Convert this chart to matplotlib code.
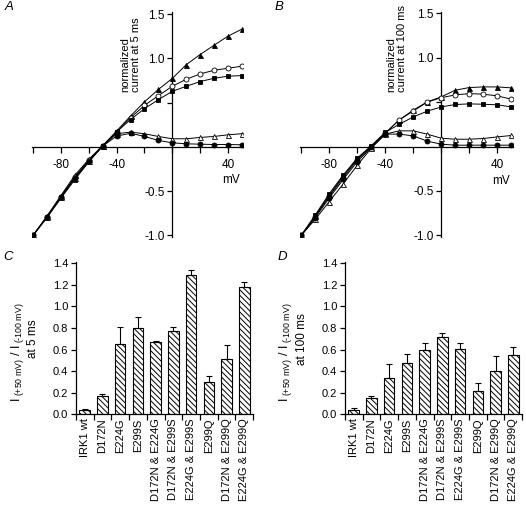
import numpy as np
import matplotlib
matplotlib.use("Agg")
import matplotlib.pyplot as plt

plt.rcParams['font.family'] = ['Liberation Sans', 'DejaVu Sans']
plt.rcParams['mathtext.fontset'] = 'custom'
plt.rcParams['mathtext.rm'] = 'Liberation Sans'
plt.rcParams['mathtext.it'] = 'Liberation Sans:italic'
plt.rcParams['hatch.linewidth'] = 0.7

# ---------------- data ----------------
voltage = [-100, -90, -80, -70, -60, -50, -40, -30, -20, -10, 0, 10, 20, 30, 40, 50]

# Panel A: normalized current at 5 ms
a_filled_tri = [-1.0, -0.78, -0.55, -0.32, -0.14, 0.015, 0.18, 0.35, 0.51, 0.65, 0.775, 0.93, 1.045, 1.15, 1.253, 1.332]
a_open_circ = [-1.0, -0.79, -0.56, -0.34, -0.15, 0.012, 0.17, 0.33, 0.47, 0.58, 0.686, 0.765, 0.826, 0.867, 0.89, 0.913]
a_filled_sq = [-1.0, -0.80, -0.58, -0.37, -0.17, 0.01, 0.17, 0.31, 0.433, 0.535, 0.629, 0.686, 0.739, 0.777, 0.80, 0.807]
a_open_tri = [-1.0, -0.79, -0.57, -0.35, -0.16, 0.012, 0.15, 0.168, 0.15, 0.119, 0.093, 0.093, 0.108, 0.119, 0.138, 0.15]
a_filled_circ = [-1.0, -0.79, -0.57, -0.35, -0.16, 0.01, 0.123, 0.155, 0.12, 0.074, 0.047, 0.036, 0.032, 0.028, 0.028, 0.025]

# Panel B: normalized current at 100 ms
b_filled_tri = [-1.0, -0.78, -0.55, -0.33, -0.14, 0.0, 0.15, 0.30, 0.41, 0.503, 0.559, 0.634, 0.664, 0.671, 0.671, 0.66]
b_open_circ = [-1.0, -0.79, -0.56, -0.35, -0.15, 0.0, 0.15, 0.30, 0.40, 0.50, 0.55, 0.581, 0.596, 0.589, 0.57, 0.533]
b_filled_sq = [-1.0, -0.77, -0.53, -0.32, -0.13, 0.01, 0.16, 0.251, 0.333, 0.398, 0.446, 0.473, 0.48, 0.476, 0.469, 0.446]
b_open_tri = [-1.0, -0.82, -0.62, -0.42, -0.21, -0.02, 0.14, 0.176, 0.176, 0.139, 0.093, 0.082, 0.082, 0.09, 0.108, 0.124]
b_filled_circ = [-1.0, -0.80, -0.58, -0.37, -0.17, -0.01, 0.14, 0.139, 0.12, 0.06, 0.026, 0.015, 0.015, 0.015, 0.015, 0.015]

# Panels C and D: I(+50 mV)/I(-100 mV)
categories = ['IRK1 wt', 'D172N', 'E224G', 'E299S', 'D172N & E224G', 'D172N & E299S',
              'E224G & E299S', 'E299Q', 'D172N & E299Q', 'E224G & E299Q']
c_values = [0.04, 0.17, 0.65, 0.80, 0.67, 0.77, 1.29, 0.30, 0.515, 1.18]
c_errors = [0.012, 0.015, 0.155, 0.105, 0.013, 0.037, 0.046, 0.055, 0.127, 0.046]
d_values = [0.04, 0.148, 0.34, 0.478, 0.60, 0.719, 0.605, 0.216, 0.405, 0.546]
d_errors = [0.015, 0.019, 0.123, 0.078, 0.057, 0.031, 0.052, 0.074, 0.135, 0.081]

xticks_iv = [-100, -80, -60, -40, -20, 0, 20, 40]
xticklabels_iv = ['', '-80', '', '-40', '', '', '', '40']
yticks_iv = [-1.0, -0.5, 0.5, 1.0, 1.5]
yticklabels_iv = ['-1.0', '-0.5', '', '1.0', '1.5']
yticks_bar = [0.0, 0.2, 0.4, 0.6, 0.8, 1.0, 1.2, 1.4]

W, H = 526, 511
fig = plt.figure(figsize=(W / 100, H / 100), dpi=100)


def px_axes(left, top, right, bottom):
    return fig.add_axes([left / W, 1 - bottom / H, (right - left) / W, (bottom - top) / H])


def ftext(x, y, s, **kw):
    fig.text(x / W, 1 - y / H, s, **kw)


series_styles = [
    ('^', 'black'),
    ('o', 'white'),
    ('s', 'black'),
    ('^', 'white'),
    ('o', 'black'),
]


def iv_panel(ax, series):
    for (mk, fc), ys in zip(series_styles, series):
        ms = 3.3 if mk == 's' else 3.6
        ax.plot(voltage, ys, color='black', lw=0.7, marker=mk, markersize=ms,
                markerfacecolor=fc, markeredgecolor='black', markeredgewidth=0.6, zorder=3)
    ax.set_xlim(-101, 51)
    ax.set_ylim(-1.02, 1.52)
    for s in ['top', 'right']:
        ax.spines[s].set_visible(False)
    ax.spines['left'].set_position(('data', 0))
    ax.spines['bottom'].set_position(('data', 0))
    for s in ['left', 'bottom']:
        ax.spines[s].set_linewidth(0.9)
    ax.set_xticks(xticks_iv)
    ax.set_xticklabels(xticklabels_iv)
    ax.set_yticks(yticks_iv)
    ax.set_yticklabels(yticklabels_iv)
    ax.tick_params(axis='x', direction='out', length=4.5, width=0.9, pad=4.5, labelsize=8.5)
    ax.tick_params(axis='y', direction='out', length=3.5, width=0.9, pad=2, labelsize=8.5)
    ax.patch.set_visible(False)


axA = px_axes(172.3 - 101 * 1.393, 147 - 1.52 * 88.5, 172.3 + 51 * 1.393, 147 + 1.02 * 88.5)
iv_panel(axA, [a_filled_tri, a_open_circ, a_filled_sq, a_open_tri, a_filled_circ])
axB = px_axes(441.3 - 101 * 1.4, 146.5 - 1.52 * 88.8, 441.3 + 51 * 1.4, 146.5 + 1.02 * 88.8)
iv_panel(axB, [b_filled_tri, b_open_circ, b_filled_sq, b_open_tri, b_filled_circ])

ftext(141, 92, 'normalized\ncurrent at 5 ms', rotation=90, ha='right', va='bottom',
      multialignment='left', fontsize=8, linespacing=1.05)
ftext(407, 92, 'normalized\ncurrent at 100 ms', rotation=90, ha='right', va='bottom',
      multialignment='left', fontsize=8, linespacing=1.05)
ftext(231, 180, 'mV', ha='center', va='center', fontsize=8.5)
ftext(501.5, 181, 'mV', ha='center', va='center', fontsize=8.5)


def bar_panel(ax, vals, errs):
    x = np.arange(len(categories))
    ax.bar(x, vals, width=0.6, color='white', edgecolor='black', linewidth=0.8,
           hatch='\\\\\\\\\\\\', zorder=2)
    ax.errorbar(x, vals, yerr=[np.zeros(len(vals)), errs], fmt='none', ecolor='black',
                elinewidth=0.8, capsize=2, capthick=0.8, zorder=3)
    ax.set_xlim(-0.5, len(categories) - 0.5)
    ax.set_ylim(0, 1.41)
    for s in ['top', 'right']:
        ax.spines[s].set_visible(False)
    for s in ['left', 'bottom']:
        ax.spines[s].set_linewidth(0.9)
    ax.set_xticks(np.arange(-0.5, len(categories), 1.0))
    ax.set_xticklabels([])
    ax.set_xticks(x, minor=True)
    ax.set_xticklabels(categories, minor=True, rotation=90, fontsize=8)
    ax.tick_params(axis='x', which='major', direction='out', length=4, width=0.9)
    ax.tick_params(axis='x', which='minor', length=0, pad=3)
    ax.set_yticks(yticks_bar)
    ax.set_yticklabels(['%.1f' % v for v in yticks_bar])
    ax.tick_params(axis='y', direction='out', length=3.5, width=0.9, pad=2, labelsize=8)
    ax.patch.set_visible(False)


axC = px_axes(75.8, 414.3 - 1.41 * 108, 253.2, 414.3)
bar_panel(axC, c_values, c_errors)
axD = px_axes(344.8, 414.3 - 1.41 * 108, 522.2, 414.3)
bar_panel(axD, d_values, d_errors)

ratio_label = '$\\mathregular{I_{\\ (+50\\ mV)}\\ /\\ I_{\\ (\u2010100\\ mV)}}$'
ftext(17, 352, ratio_label, rotation=90, ha='center', va='center', fontsize=9)
ftext(33, 339, 'at 5 ms', rotation=90, ha='center', va='center', fontsize=8.5)
ftext(286, 352, ratio_label, rotation=90, ha='center', va='center', fontsize=9)
ftext(302, 339, 'at 100 ms', rotation=90, ha='center', va='center', fontsize=8.5)

for lx, ly, letter in [(9, 7, 'A'), (279, 7, 'B'), (8.5, 257.5, 'C'), (282, 257, 'D')]:
    ftext(lx, ly, letter, ha='center', va='center', fontsize=9.5, style='italic')

fig.savefig('out.png', dpi=100)
